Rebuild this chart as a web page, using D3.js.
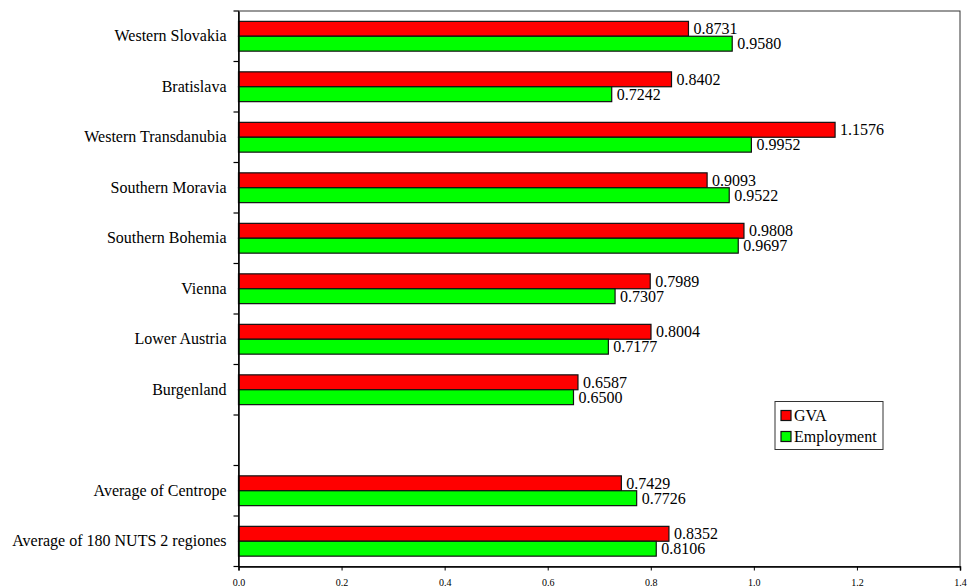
<!DOCTYPE html>
<html>
<head>
<meta charset="utf-8">
<script src="https://cdn.jsdelivr.net/npm/d3@7"></script>
<style>
  html, body { margin: 0; padding: 0; background: #fff; }
  svg { display: block; }
  text { font-family: "Liberation Serif", "Times New Roman", serif; fill: #000; }
</style>
</head>
<body>
<svg id="chart" width="970" height="588"></svg>
<script>
// ---- data ----
const categories = [
  "Western Slovakia", "Bratislava", "Western Transdanubia", "Southern Moravia",
  "Southern Bohemia", "Vienna", "Lower Austria", "Burgenland", "",
  "Average of Centrope", "Average of 180 NUTS 2 regiones"
];
const gvaValues = [0.8731, 0.8402, 1.1576, 0.9093, 0.9808, 0.7989, 0.8004, 0.6587, null, 0.7429, 0.8352];
const employmentValues = [0.9580, 0.7242, 0.9952, 0.9522, 0.9697, 0.7307, 0.7177, 0.6500, null, 0.7726, 0.8106];
const seriesNames = ["GVA", "Employment"];
const seriesColors = ["#ff0000", "#00ff00"];
const xTicks = [0, 0.2, 0.4, 0.6, 0.8, 1.0, 1.2, 1.4];

(function () {
// ---- layout ----
const svg = d3.select("#chart");
const plotLeft = 238.5, plotRight = 960, plotTop = 11, plotBottom = 566.5;

const slotKeys = categories.map((c, i) => "slot" + i);
const y0 = d3.scaleBand().domain(slotKeys).range([plotTop, plotBottom]).padding(0);
const step = y0.step();
const y1 = d3.scaleBand().domain(seriesNames)
  .range([step * 0.205, step * 0.795]).padding(0);
const x = d3.scaleLinear().domain([0, 1.4]).range([plotLeft, plotRight]);

const rows = categories.map((c, i) => ({
  key: slotKeys[i], name: c,
  vals: [gvaValues[i], employmentValues[i]]
}));

// plot frame
svg.append("rect")
  .attr("x", plotLeft).attr("y", plotTop)
  .attr("width", plotRight - plotLeft).attr("height", plotBottom - plotTop)
  .attr("fill", "#fff").attr("stroke", "#333").attr("stroke-width", 1);

// bars
const groups = svg.append("g").selectAll("g").data(rows).join("g")
  .attr("transform", d => `translate(0,${y0(d.key)})`);

groups.selectAll("rect")
  .data(d => d.vals.map((v, j) => ({ v, s: seriesNames[j], c: seriesColors[j] })).filter(e => e.v != null))
  .join("rect")
  .attr("x", x(0))
  .attr("y", e => y1(e.s))
  .attr("width", e => x(e.v) - x(0))
  .attr("height", y1.bandwidth())
  .attr("fill", e => e.c)
  .attr("stroke", "#111")
  .attr("stroke-width", 1.2);

groups.selectAll("text.val")
  .data(d => d.vals.map((v, j) => ({ v, s: seriesNames[j] })).filter(e => e.v != null))
  .join("text")
  .attr("class", "val")
  .attr("x", e => x(e.v) + 5)
  .attr("y", e => y1(e.s) + y1.bandwidth() / 2)
  .attr("dy", "0.34em")
  .style("font-family", "'Liberation Serif', serif")
  .attr("font-size", 16)
  .text(e => e.v.toFixed(4));

// y axis
const yAxis = d3.axisLeft(y0).tickSize(0).tickFormat((k, i) => categories[i]).tickPadding(12);
const gy = svg.append("g").attr("transform", `translate(${plotLeft},0)`).call(yAxis);
gy.select(".domain").attr("stroke", "#000").attr("stroke-width", 1.5);
gy.selectAll("text").attr("font-size", 16).style("font-family", "'Liberation Serif', serif").attr("fill", "#000");
// tick marks at band boundaries
const boundaries = d3.range(categories.length + 1).map(i => plotTop + i * step);
svg.append("g").selectAll("line").data(boundaries).join("line")
  .attr("x1", plotLeft - 5).attr("x2", plotLeft)
  .attr("y1", d => d).attr("y2", d => d)
  .attr("stroke", "#000").attr("stroke-width", 1.2);

// x axis
const xAxis = d3.axisBottom(x).tickValues(xTicks).tickFormat(d3.format(".1f")).tickSize(4).tickPadding(8);
const gx = svg.append("g").attr("transform", `translate(0,${plotBottom})`).call(xAxis);
gx.select(".domain").attr("stroke", "#000").attr("stroke-width", 1.5);
gx.selectAll(".tick line").attr("stroke", "#000");
gx.selectAll("text").attr("font-size", 10).style("font-family", "'Liberation Serif', serif").attr("fill", "#000");

// legend
const lg = svg.append("g").attr("transform", "translate(775,401.5)");
lg.append("rect").attr("width", 108).attr("height", 48)
  .attr("fill", "#fff").attr("stroke", "#333").attr("stroke-width", 1);
seriesNames.forEach((n, i) => {
  const yy = 9 + i * 21;
  lg.append("rect").attr("x", 6).attr("y", yy).attr("width", 10).attr("height", 10)
    .attr("fill", seriesColors[i]).attr("stroke", "#111").attr("stroke-width", 1.2);
  lg.append("text").attr("x", 19).attr("y", yy + 5).attr("dy", "0.36em")
    .style("font-family", "'Liberation Serif', serif")
    .attr("font-size", 16).text(n);
});
})();
</script>
</body>
</html>
